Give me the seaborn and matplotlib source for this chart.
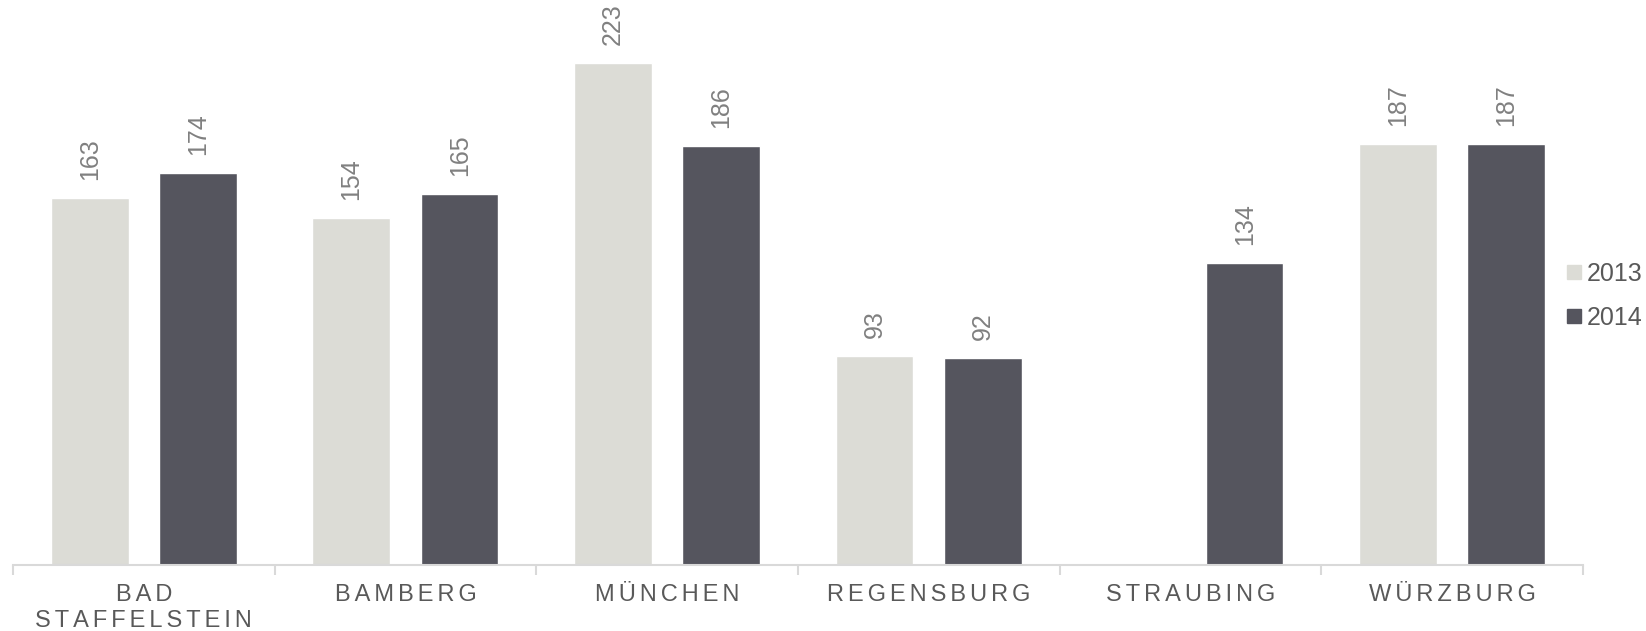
import numpy as np
import pandas as pd
import matplotlib
matplotlib.use("Agg")
import matplotlib.pyplot as plt
from matplotlib.lines import Line2D
import seaborn as sns

cities = ["BAD\nSTAFFELSTEIN", "BAMBERG", "MÜNCHEN", "REGENSBURG", "STRAUBING", "WÜRZBURG"]
years = ["2013", "2014"]
values_2013 = [163, 154, 223, 93, np.nan, 187]
values_2014 = [174, 165, 186, 92, 134, 187]

colors = {"2013": "#dcdcd6", "2014": "#55555e"}

df = pd.DataFrame({
    "city": cities * 2,
    "year": ["2013"] * len(cities) + ["2014"] * len(cities),
    "value": values_2013 + values_2014,
})

sns.set_theme(style="white")
plt.rcParams["font.family"] = ["Liberation Sans", "DejaVu Sans"]

fig = plt.figure(figsize=(16.46, 6.31), dpi=100)
ax = fig.add_axes([0.0079, 0.1046, 0.9538, 0.8954])

sns.barplot(data=df, x="city", y="value", hue="year", order=cities,
            hue_order=years, palette=colors, width=0.828, gap=0.283,
            legend=False, ax=ax, saturation=1)

for cont in ax.containers:
    labels = ["" if np.isnan(v) else f"{v:.0f}" for v in cont.datavalues]
    ax.bar_label(cont, labels=labels, rotation=90, padding=13,
                 fontsize=18, color="#808080")

ax.set_ylim(0, 251)
ax.set_xlim(-0.5, len(cities) - 0.5)
ax.set_xlabel("")
ax.set_ylabel("")
ax.set_yticks([])

for side in ["top", "right", "left"]:
    ax.spines[side].set_visible(False)
ax.spines["bottom"].set_color("#d9d9d9")
ax.spines["bottom"].set_linewidth(1.5)

# category boundaries as ticks, names centred between them
ax.set_xticks(np.arange(-0.5, len(cities)), minor=False)
ax.set_xticklabels([])
ax.tick_params(axis="x", which="major", length=7, width=1.5, color="#d9d9d9", bottom=True)
ax.set_xticks(np.arange(len(cities)), minor=True)
spaced = ["\n".join("\u200a\u200a".join(line) for line in c.split("\n")) for c in cities]
ax.set_xticklabels(spaced, minor=True)
ax.tick_params(axis="x", which="minor", length=0, pad=14, labelsize=17, labelcolor="#595959")
for lbl in ax.get_xticklabels(minor=True):
    lbl.set_linespacing(1.2)

handles = [Line2D([], [], marker="s", linestyle="none", markersize=9.5,
                  markerfacecolor=colors[y], markeredgecolor=colors[y]) for y in years]
fig.legend(handles, years, loc="center left", bbox_to_anchor=(0.945, 0.531),
           frameon=False, fontsize=18, labelcolor="#595959",
           handlelength=0.7, handletextpad=0.15, labelspacing=0.8, borderaxespad=0)

fig.savefig("out.png", dpi=100)
